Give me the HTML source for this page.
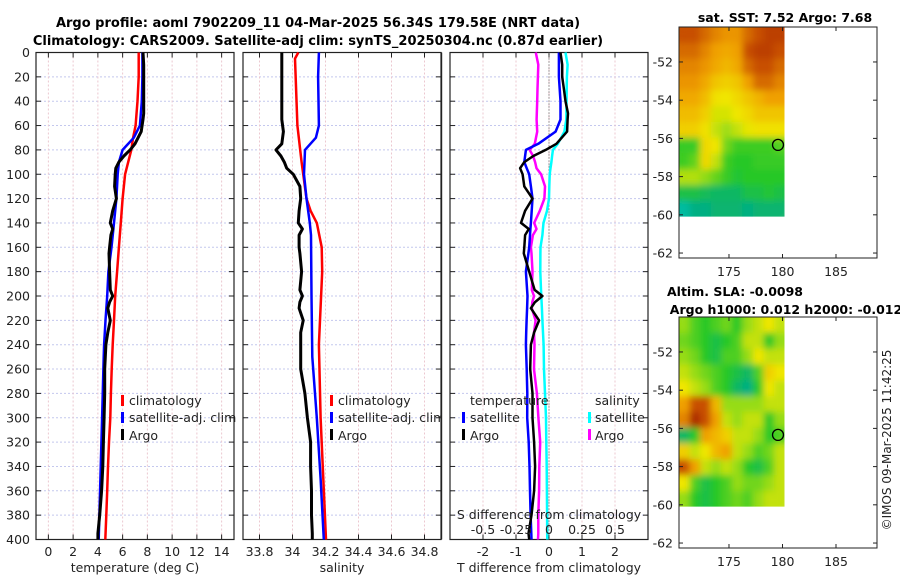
<!DOCTYPE html>
<html><head><meta charset="utf-8"><style>
html,body{margin:0;padding:0;background:#fff;}
svg{display:block;font-family:"DejaVu Sans","Liberation Sans",sans-serif;}
</style></head><body>
<svg id="chart" width="900" height="580" viewBox="0 0 900 580" xmlns="http://www.w3.org/2000/svg">
<defs>
<filter id="smooth" x="0" y="0" width="1" height="1"><feGaussianBlur stdDeviation="3.5"/><feComponentTransfer><feFuncA type="linear" slope="4"/></feComponentTransfer></filter>
<clipPath id="clip1"><rect x="679" y="27" width="105.5" height="189.6"/></clipPath>
<clipPath id="clip2"><rect x="679" y="317" width="105.5" height="189.6"/></clipPath>
</defs>
<text x="318" y="27" text-anchor="middle" font-size="13" font-weight="bold">Argo profile: aoml 7902209_11 04-Mar-2025 56.34S 179.58E (NRT data)</text>
<text x="318" y="45" text-anchor="middle" font-size="13" font-weight="bold">Climatology: CARS2009. Satellite-adj clim: synTS_20250304.nc (0.87d earlier)</text>
<text x="785" y="22" text-anchor="middle" font-size="12.5" font-weight="bold">sat. SST: 7.52 Argo: 7.68</text>
<text x="735" y="296" text-anchor="middle" font-size="12.5" font-weight="bold">Altim. SLA: -0.0098</text>
<text x="786" y="314" text-anchor="middle" font-size="12.5" font-weight="bold">Argo h1000: 0.012 h2000: -0.012</text>
<text transform="translate(891,440) rotate(-90)" text-anchor="middle" font-size="12" fill="#222">©IMOS 09-Mar-2025 11:42:25</text>
<g id="layer"></g>
</svg>
<script>
// ---- data ----
const climDepthT=[0,20,40,60,70,80,100,120,140,160,180,200,220,240,260,280,300,320,340,360,380,400];
const climTemp=[7.3,7.3,7.2,7.05,6.85,6.7,6.2,6.0,5.85,5.7,5.55,5.4,5.3,5.2,5.12,5.05,5.0,4.9,4.82,4.75,4.68,4.6];
const satDepthT=[0,20,40,60,70,80,90,100,120,140,160,180,200,220,240,250,300,350,400];
const satTemp=[7.6,7.6,7.55,7.4,6.9,6.0,5.7,5.6,5.5,5.3,5.1,4.85,4.75,4.62,4.5,4.47,4.34,4.2,4.07];
const argoDepth=[0,10,20,30,40,50,55,65,75,80,85,90,95,100,110,120,130,140,145,150,160,165,180,195,200,205,210,220,230,240,260,280,300,320,340,360,380,395,400];
const argoTemp=[7.65,7.7,7.7,7.7,7.7,7.7,7.65,7.5,7.0,6.6,6.1,5.7,5.45,5.4,5.35,5.5,5.2,5.0,5.2,5.05,4.95,4.9,4.95,5.0,5.2,4.95,4.8,5.0,4.8,4.65,4.55,4.55,4.5,4.45,4.4,4.3,4.15,4.0,4.0];
const argoSal=[33.935,33.935,33.935,33.935,33.935,33.935,33.935,33.945,33.935,33.9,33.93,33.95,33.965,34.005,34.045,34.05,34.04,34.035,34.06,34.04,34.04,34.045,34.055,34.045,34.06,34.045,34.04,34.065,34.05,34.05,34.05,34.075,34.09,34.11,34.11,34.115,34.115,34.12,34.12];
const climDepthS=[0,5,60,90,120,130,140,160,180,240,300,400];
const climSal=[34.035,34.015,34.03,34.055,34.085,34.11,34.147,34.177,34.18,34.16,34.17,34.203];
const satDepthS=[0,20,60,70,80,100,120,140,150,200,250,300,350,400];
const satSal=[34.16,34.155,34.16,34.142,34.076,34.07,34.085,34.105,34.112,34.115,34.12,34.147,34.17,34.19];
const depthTicks=[0,20,40,60,80,100,120,140,160,180,200,220,240,260,280,300,320,340,360,380,400];
const tempTicks=[0,2,4,6,8,10,12,14];
const salTicks=[33.8,34,34.2,34.4,34.6,34.8];
const salTickLabels=["33.8","34","34.2","34.4","34.6","34.8"];
const tdiffTicks=[-2,-1,0,1,2];
const sdiffTicks=[-0.5,-0.25,0,0.25,0.5];
const sdiffTickLabels=["-0.5","-0.25","0","0.25","0.5"];
const latTicks=[-52,-54,-56,-58,-60,-62];
const lonTicks=[175,180,185];
const sstGrid=[
[.85,.85,.8,.75,.72,.72,.8,.85,.88,.88],
[.8,.8,.75,.7,.68,.7,.85,.88,.88,.85],
[.75,.75,.72,.68,.65,.68,.8,.85,.85,.8],
[.72,.72,.68,.62,.6,.62,.7,.8,.8,.75],
[.68,.68,.64,.56,.55,.58,.62,.66,.7,.7],
[.64,.64,.6,.52,.52,.55,.58,.62,.62,.62],
[.6,.6,.56,.5,.46,.5,.54,.56,.56,.56],
[.32,.32,.58,.55,.4,.33,.33,.33,.33,.36],
[.33,.38,.58,.5,.33,.3,.3,.32,.32,.32],
[.48,.48,.44,.38,.32,.28,.3,.3,.3,.3],
[.25,.25,.22,.2,.2,.2,.25,.25,.28,.25],
[.1,.15,.15,.18,.18,.18,.15,.18,.18,.18]];
const slaGrid=[
[.45,.35,.3,.35,.4,.3,.45,.5,.55,.5],
[.4,.35,.3,.25,.3,.35,.5,.5,.3,.45],
[.45,.4,.3,.25,.35,.35,.45,.55,.5,.5],
[.5,.45,.4,.35,.3,.25,.2,.35,.6,.55],
[.55,.5,.45,.35,.3,.2,.15,.3,.55,.5],
[.7,.85,.85,.65,.45,.45,.45,.45,.5,.5],
[.75,.92,.85,.7,.5,.45,.5,.5,.3,.45],
[.2,.3,.7,.65,.6,.5,.5,.45,.3,.35],
[.6,.5,.55,.65,.7,.5,.45,.35,.4,.5],
[.85,.7,.5,.45,.5,.45,.3,.25,.35,.5],
[.55,.35,.25,.3,.35,.45,.4,.4,.45,.5],
[.45,.3,.25,.3,.35,.4,.35,.45,.5,.5]];
const argoLon=179.58, argoLat=-56.34;

// ---- helpers ----
const NS="http://www.w3.org/2000/svg";
const layer=document.getElementById('layer');
function el(tag,attrs,parent){const e=document.createElementNS(NS,tag);for(const k in attrs)e.setAttribute(k,attrs[k]);(parent||layer).appendChild(e);return e;}
const PT=52.5, PB=539.5;
const yD=d=>PT+d*(PB-PT)/400;
function lin(d0,d1,r0,r1){return v=>r0+(v-d0)*(r1-r0)/(d1-d0);}
const xT=lin(-1,15,36,234), xS=lin(33.7,34.9,243,441), xTD=lin(-3,3,450,648), xSD=lin(-0.75,0.75,450,648);
function interp(ds,vs,d){if(d<=ds[0])return vs[0];for(let i=1;i<ds.length;i++){if(d<=ds[i]){const f=(d-ds[i-1])/(ds[i]-ds[i-1]);return vs[i-1]+f*(vs[i]-vs[i-1]);}}return vs[vs.length-1];}

function panel(x0,x1,xs,xticks,name){
  const g=el('g',{});
  
  
  depthTicks.forEach(d=>{el('line',{x1:x0,x2:x1,y1:yD(d),y2:yD(d),stroke:'#c4c8ee','stroke-width':1,'stroke-dasharray':'2,2'},g);});
  xticks.forEach(v=>{el('line',{x1:xs(v),x2:xs(v),y1:PT,y2:PB,stroke:'#ecc8d0','stroke-width':1,'stroke-dasharray':'2,2'},g);});
  depthTicks.forEach(d=>{el('line',{x1:x0,x2:x0+5,y1:yD(d),y2:yD(d),stroke:'#222'},g);el('line',{x1:x1-5,x2:x1,y1:yD(d),y2:yD(d),stroke:'#222'},g);});
  xticks.forEach(v=>{el('line',{x1:xs(v),x2:xs(v),y1:PB,y2:PB-5,stroke:'#222'},g);el('line',{x1:xs(v),x2:xs(v),y1:PT,y2:PT+5,stroke:'#222'},g);});
  el('rect',{x:x0,y:PT,width:x1-x0,height:PB-PT,fill:'none',stroke:'#222','stroke-width':1.2},g);
  return g;
}
function profile(ds,vs,xs,color,w,name){
  const pts=ds.map((d,i)=>xs(vs[i]).toFixed(1)+','+yD(d).toFixed(1)).join(' ');
  const p=el('polyline',{points:pts,fill:'none',stroke:color,'stroke-width':w,'stroke-linejoin':'round'});
  
  
}
function txt(x,y,s,size,anchor,name,extra){
  const t=el('text',Object.assign({x:x,y:y,'font-size':size,'text-anchor':anchor||'middle',fill:'#222'},extra||{}));
  t.textContent=s;
  
  
  return t;
}
function legendMark(x,y,color,name){
  const m=el('rect',{x:x,y:y-11,width:3,height:11,fill:color});
  
  
}

// ---- panel 1 temperature ----
panel(36,234,xT,tempTicks,'temperature-panel');
depthTicks.forEach(d=>txt(30,yD(d)+4.5,String(d),12.5,'end','depth-tick-label'));
tempTicks.forEach(v=>txt(xT(v),556,String(v),12.5,'middle','temperature-tick-label'));
txt(135,572,'temperature (deg C)',12.5,'middle','temperature-axis-title');
profile(climDepthT,climTemp,xT,'#f00',2.5,'temperature-climatology-line');
profile(satDepthT,satTemp,xT,'#00f',2.5,'temperature-satellite-line');
profile(argoDepth,argoTemp,xT,'#000',3,'temperature-argo-line');
legendMark(121,406,'#f00','legend-climatology-mark');txt(129,405,'climatology',12.5,'start','legend-climatology-label');
legendMark(121,423,'#00f','legend-satellite-mark');txt(129,422,'satellite-adj. clim',12.5,'start','legend-satellite-label');
legendMark(121,440,'#000','legend-argo-mark');txt(129,440,'Argo',12.5,'start','legend-argo-label');

// ---- panel 2 salinity ----
panel(243,441,xS,salTicks,'salinity-panel');
salTicks.forEach((v,i)=>txt(xS(v),556,salTickLabels[i],12.5,'middle','salinity-tick-label'));
txt(342,572,'salinity',12.5,'middle','salinity-axis-title');
profile(climDepthS,climSal,xS,'#f00',2.5,'salinity-climatology-line');
profile(satDepthS,satSal,xS,'#00f',2.5,'salinity-satellite-line');
profile(argoDepth,argoSal,xS,'#000',3,'salinity-argo-line');
legendMark(330,406,'#f00','legend2-climatology-mark');txt(338,405,'climatology',12.5,'start','legend2-climatology-label');
legendMark(330,423,'#00f','legend2-satellite-mark');txt(338,422,'satellite-adj. clim',12.5,'start','legend2-satellite-label');
legendMark(330,440,'#000','legend2-argo-mark');txt(338,440,'Argo',12.5,'start','legend2-argo-label');
el('rect',{x:441.6,y:380,width:8,height:70,fill:'#fff'});
el('rect',{x:441,y:PT,width:1.2,height:PB-PT,fill:'#222'});

// ---- panel 3 differences ----
panel(450,648,xTD,tdiffTicks,'difference-panel');
el('line',{x1:xTD(0),x2:xTD(0),y1:PT,y2:PB,stroke:'#555','stroke-width':1,'stroke-dasharray':'1,2'});
const tdSat=argoDepth.map(d=>interp(satDepthT,satTemp,d)-interp(climDepthT,climTemp,d));
const tdArgo=argoDepth.map((d,i)=>argoTemp[i]-interp(climDepthT,climTemp,d));
const sdSat=argoDepth.map(d=>interp(satDepthS,satSal,d)-interp(climDepthS,climSal,d));
const sdArgo=argoDepth.map((d,i)=>argoSal[i]-interp(climDepthS,climSal,d));
profile(argoDepth,sdSat,xSD,'#00ffff',2.5,'salinity-diff-satellite-line');
profile(argoDepth,sdArgo,xSD,'#ff00ff',2.5,'salinity-diff-argo-line');
profile(argoDepth,tdSat,xTD,'#00f',2.5,'temperature-diff-satellite-line');
profile(argoDepth,tdArgo,xTD,'#000',2.5,'temperature-diff-argo-line');
tdiffTicks.forEach(v=>txt(xTD(v),556,String(v),12.5,'middle','tdiff-tick-label'));
txt(549,572,'T difference from climatology',12.5,'middle','tdiff-axis-title');
sdiffTicks.forEach((v,i)=>txt(xSD(v),534,sdiffTickLabels[i],12.5,'middle','sdiff-tick-label'));
txt(549,519,'S difference from climatology',12.5,'middle','sdiff-axis-title');
txt(470,405,'temperature',12.5,'start','legend3-temperature-heading');
legendMark(462,423,'#00f','legend3-tsat-mark');txt(470,422,'satellite',12.5,'start','legend3-tsat-label');
legendMark(462,440,'#000','legend3-targo-mark');txt(470,440,'Argo',12.5,'start','legend3-targo-label');
txt(595,405,'salinity',12.5,'start','legend3-salinity-heading');
legendMark(588,423,'#00ffff','legend3-ssat-mark');txt(595,422,'satellite',12.5,'start','legend3-ssat-label');
legendMark(588,440,'#ff00ff','legend3-sargo-mark');txt(595,440,'Argo',12.5,'start','legend3-sargo-label');

// ---- maps ----
const stops=[[0,[0,210,220]],[0.15,[0,175,130]],[0.3,[40,200,40]],[0.45,[150,220,20]],[0.55,[240,230,0]],[0.7,[240,160,0]],[0.85,[200,80,0]],[1,[140,0,0]]];
function cmap(v){for(let i=1;i<stops.length;i++){if(v<=stops[i][0]){const a=stops[i-1],b=stops[i];const f=(v-a[0])/(b[0]-a[0]);const c=a[1].map((q,k)=>Math.round(q+f*(b[1][k]-q)));return 'rgb('+c.join(',')+')';}}return 'rgb(140,0,0)';}
const xLon=lin(170.33,188.83,679,877);
function map(top,grid,name,clip){
  const yLat=lin(-50.17,-62.26,top,top+231);
  const g=el('g',{});
  
  
  const cg=el('g',{'clip-path':'url(#'+clip+')'},g);
  const ig=el('g',{filter:'url(#smooth)'},cg);
  const rows=grid.length, cols=grid[0].length;
  const lon0=170.33, lon1=180.2, lat0=-50.17, lat1=-60.1;
  grid.forEach((row,r)=>row.forEach((v,c)=>{
    const xa=xLon(lon0+(lon1-lon0)*c/cols), xb=xLon(lon0+(lon1-lon0)*(c+1)/cols);
    const ya=yLat(lat0+(lat1-lat0)*r/rows), yb=yLat(lat0+(lat1-lat0)*(r+1)/rows);
    const cell=el('rect',{x:xa,y:ya,width:xb-xa+0.6,height:yb-ya+0.6,fill:cmap(v)},ig);
    
    
  }));
  latTicks.forEach(l=>{el('line',{x1:679,x2:683,y1:yLat(l),y2:yLat(l),stroke:'#222'},g);el('line',{x1:873,x2:877,y1:yLat(l),y2:yLat(l),stroke:'#222'},g);txt(673,yLat(l)+4.5,String(l),12.5,'end','latitude-tick-label');});
  lonTicks.forEach(l=>{el('line',{x1:xLon(l),x2:xLon(l),y1:top+231,y2:top+227,stroke:'#222'},g);el('line',{x1:xLon(l),x2:xLon(l),y1:top,y2:top+4,stroke:'#222'},g);txt(xLon(l),top+249,String(l),12.5,'middle','longitude-tick-label');});
  el('rect',{x:679,y:top,width:198,height:231,fill:'none',stroke:'#222','stroke-width':1},g);
  const c=el('circle',{cx:xLon(argoLon),cy:yLat(argoLat),r:5.5,fill:'none',stroke:'#000','stroke-width':1.3},g);
  
  
}
map(27,sstGrid,'sst-map','clip1');
map(317,slaGrid,'sla-map','clip2');
</script>
</body></html>
